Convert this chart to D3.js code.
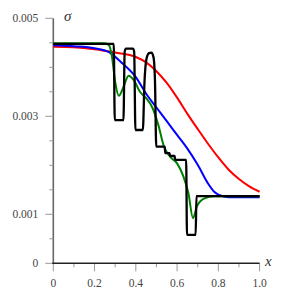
<!DOCTYPE html>
<html>
<head>
<meta charset="utf-8">
<script src="https://cdn.jsdelivr.net/npm/d3@7"></script>
<style>
  body { margin: 0; background: #fff; }
</style>
</head>
<body>
<div class="content"></div>
<script>
// ticks
var xMajor = [0, 0.2, 0.4, 0.6, 0.8, 1.0];
var xMajorLabels = ["0", "0.2", "0.4", "0.6", "0.8", "1.0"];
var xMinor = [0.1, 0.3, 0.5, 0.7, 0.9];
var yLabeled = [0, 0.001, 0.003, 0.005];
var yLabels = ["0", "0.001", "0.003", "0.005"];
var yMinor = [0.0005, 0.0015, 0.002, 0.0025, 0.0035, 0.004, 0.0045];

// series, [x, sigma]
var red = [[0, 0.00442], [0.1, 0.00441], [0.2, 0.00437], [0.3, 0.0043], [0.4, 0.00421],
  [0.45, 0.0041], [0.5, 0.00392], [0.55, 0.00368], [0.6, 0.00338], [0.65, 0.00305],
  [0.7, 0.00274], [0.75, 0.00244], [0.8, 0.00216], [0.85, 0.00191], [0.9, 0.00172],
  [0.95, 0.00157], [1.0, 0.00146]];

var blue = [[0, 0.00445], [0.1, 0.00443], [0.2, 0.00439], [0.27, 0.00431], [0.33, 0.0041],
  [0.4, 0.0038], [0.45, 0.00346], [0.5, 0.00318], [0.55, 0.0029], [0.6, 0.00262],
  [0.65, 0.00234], [0.7, 0.00201], [0.75, 0.00163], [0.78, 0.00146], [0.8, 0.0014],
  [0.85, 0.00135], [1.0, 0.00135]];

var green = [[0, 0.00449], [0.25, 0.00449], [0.27, 0.00445], [0.285, 0.0042], [0.3, 0.0037],
  [0.318, 0.00342], [0.34, 0.0036], [0.365, 0.00383], [0.39, 0.00374], [0.42, 0.0035],
  [0.45, 0.00337], [0.48, 0.00318], [0.51, 0.00281], [0.535, 0.0024], [0.565, 0.00218],
  [0.6, 0.00204], [0.63, 0.00178], [0.655, 0.00143], [0.677, 0.00092], [0.695, 0.00115],
  [0.73, 0.00132], [0.78, 0.00137], [1.0, 0.00137]];

var black = [[0, 0.00448], [0.293, 0.00448], [0.298, 0.00292], [0.34, 0.00292],
  [0.346, 0.00432], [0.352, 0.00438], [0.386, 0.00438], [0.392, 0.00432], [0.398, 0.00272],
  [0.434, 0.00272], [0.442, 0.0037], [0.452, 0.00418], [0.464, 0.00429], [0.476, 0.0043],
  [0.486, 0.0042], [0.493, 0.0037], [0.499, 0.00238], [0.54, 0.00238], [0.543, 0.00225],
  [0.563, 0.00225], [0.566, 0.00219], [0.588, 0.00219], [0.591, 0.00211], [0.644, 0.00211],
  [0.648, 0.00058], [0.69, 0.00058], [0.694, 0.00137], [1.0, 0.00137]];

var series = [
  {data: red, color: "#ff0000", w: 2},
  {data: blue, color: "#0000ff", w: 2},
  {data: green, color: "#008000", w: 2},
  {data: black, color: "#000000", w: 2.3}
];

var serif = "'Liberation Serif', 'DejaVu Serif', serif";
var W = 281, H = 297;
var svg = d3.select(".content")
    .append("svg")
    .attr("width", W)
    .attr("height", H);

var x = d3.scaleLinear().domain([0, 1]).range([53.3, 259.6]);
var y = d3.scaleLinear().domain([0, 0.005]).range([263.3, 18.3]);

// y axis
var yAxis = svg.append("g");
yAxis.append("line")
    .attr("x1", x(0)).attr("x2", x(0))
    .attr("y1", y(0)).attr("y2", y(0.005))
    .attr("stroke", "#666").attr("stroke-width", 1.6);
yAxis.selectAll(".ymaj").data(yLabeled).enter().append("line")
    .attr("x1", x(0) - 8).attr("x2", x(0))
    .attr("y1", function(d) { return y(d); })
    .attr("y2", function(d) { return y(d); })
    .attr("stroke", "#999").attr("stroke-width", 1);
yAxis.selectAll(".ymin").data(yMinor).enter().append("line")
    .attr("x1", x(0) - 4).attr("x2", x(0))
    .attr("y1", function(d) { return y(d); })
    .attr("y2", function(d) { return y(d); })
    .attr("stroke", "#999").attr("stroke-width", 1);
yAxis.selectAll(".ylab").data(yLabeled).enter().append("text")
    .attr("x", x(0) - 15)
    .attr("y", function(d) { return y(d); })
    .attr("dy", "0.35em")
    .attr("text-anchor", "end")
    .attr("fill", "#444")
    .style("font-family", serif)
    .style("font-size", "11.5px")
    .text(function(d, i) { return yLabels[i]; });

// x axis
var xAxis = svg.append("g");
xAxis.selectAll(".xmaj").data(xMajor).enter().append("line")
    .attr("x1", function(d) { return x(d); })
    .attr("x2", function(d) { return x(d); })
    .attr("y1", y(0)).attr("y2", y(0) + 8)
    .attr("stroke", "#999").attr("stroke-width", 1);
xAxis.selectAll(".xmin").data(xMinor).enter().append("line")
    .attr("x1", function(d) { return x(d); })
    .attr("x2", function(d) { return x(d); })
    .attr("y1", y(0)).attr("y2", y(0) + 4)
    .attr("stroke", "#999").attr("stroke-width", 1);
xAxis.append("line")
    .attr("x1", x(0) - 1).attr("x2", x(1))
    .attr("y1", y(0)).attr("y2", y(0))
    .attr("stroke", "#222").attr("stroke-width", 1.5);
xAxis.selectAll(".xlab").data(xMajor).enter().append("text")
    .attr("x", function(d) { return x(d); })
    .attr("y", 287)
    .attr("text-anchor", "middle")
    .attr("fill", "#444")
    .style("font-family", serif)
    .style("font-size", "11.5px")
    .text(function(d, i) { return xMajorLabels[i]; });

// axis names
svg.append("text")
    .attr("x", 265).attr("y", 266)
    .style("font-family", serif)
    .style("font-size", "15px").style("font-style", "italic")
    .attr("fill", "#333")
    .text("x");
svg.append("text")
    .attr("x", 64).attr("y", 21)
    .style("font-family", serif)
    .style("font-size", "15px").style("font-style", "italic")
    .attr("fill", "#333")
    .text("σ");

// curves
var line = d3.line()
    .x(function(d) { return x(d[0]); })
    .y(function(d) { return y(d[1]); })
    .curve(d3.curveMonotoneX);

svg.selectAll(".curve").data(series).enter().append("path")
    .attr("fill", "none")
    .attr("stroke", function(d) { return d.color; })
    .attr("stroke-width", function(d) { return d.w; })
    .attr("stroke-linejoin", "round")
    .attr("d", function(d) { return line(d.data); });
</script>
</body>
</html>
